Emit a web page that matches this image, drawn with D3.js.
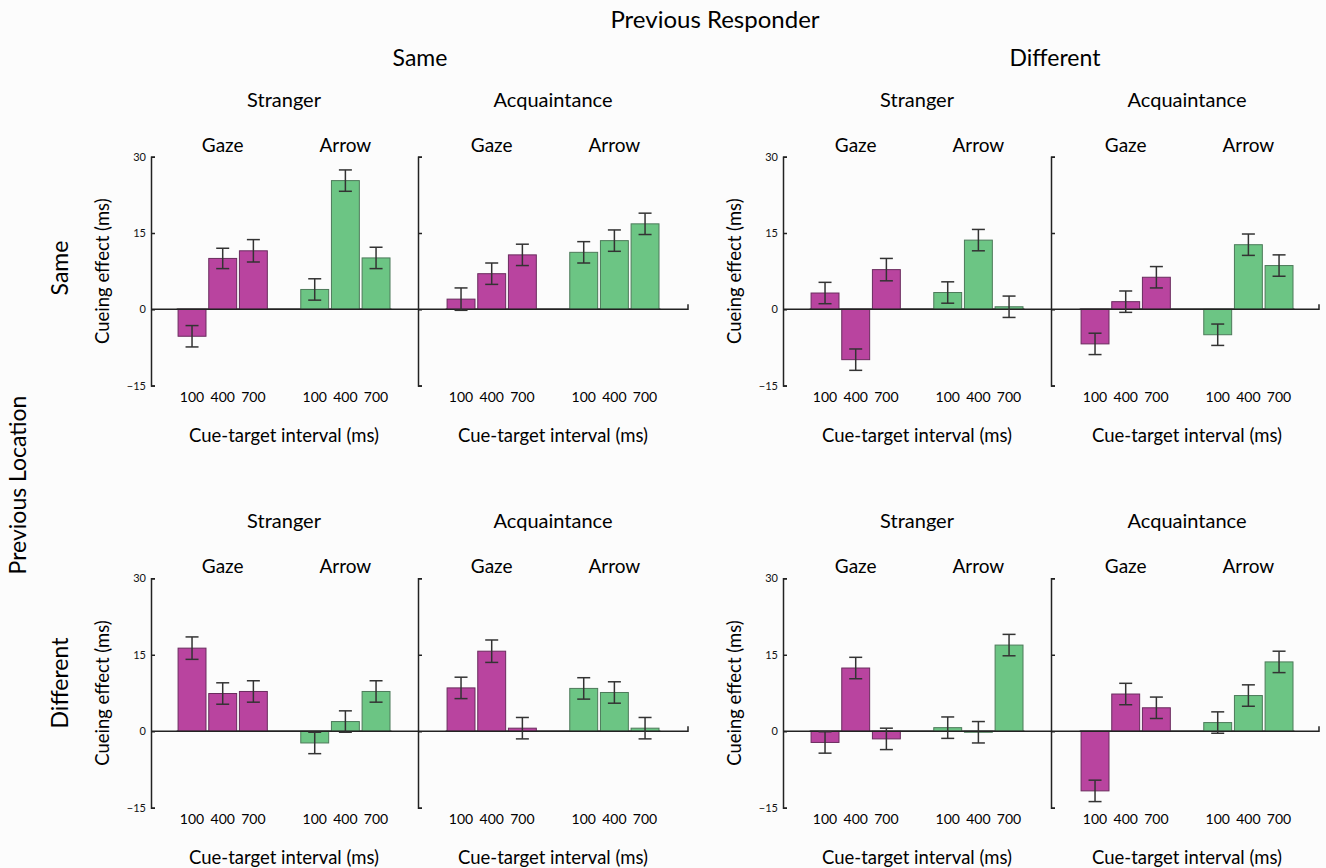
<!DOCTYPE html>
<html>
<head>
<meta charset="utf-8">
<script src="https://cdn.jsdelivr.net/npm/d3@7"></script>
<style>
  html, body { margin: 0; padding: 0; background: #fcfcfc; }
  svg { display: block; font-family: Lato, "Noto Sans", sans-serif; }
</style>
</head>
<body>
<svg id="chart" width="1326" height="868"></svg>
<script>
// ---------- data ----------
const intervals = ["100", "400", "700"];
const cueTypes = ["Gaze", "Arrow"];
const familiarity = ["Stranger", "Acquaintance"];
const responderLevels = ["Same", "Different"];
const locationLevels = ["Same", "Different"];
const yTicks = [-15, 0, 15, 30];

// values per panel: [Gaze100, Gaze400, Gaze700, Arrow100, Arrow400, Arrow700]
const sameLocSameRespStranger = [-5.3, 10.0, 11.5, 3.9, 25.3, 10.1];
const sameLocSameRespAcq      = [2.0, 7.0, 10.7, 11.2, 13.5, 16.8];
const sameLocDiffRespStranger = [3.2, -9.9, 7.8, 3.3, 13.6, 0.5];
const sameLocDiffRespAcq      = [-6.8, 1.5, 6.3, -5.0, 12.7, 8.6];
const diffLocSameRespStranger = [16.3, 7.4, 7.8, -2.3, 1.9, 7.8];
const diffLocSameRespAcq      = [8.5, 15.7, 0.6, 8.4, 7.6, 0.6];
const diffLocDiffRespStranger = [-2.2, 12.4, -1.5, 0.7, -0.2, 16.9];
const diffLocDiffRespAcq      = [-11.7, 7.3, 4.6, 1.7, 7.0, 13.6];

// error bar half-widths
const sameLocSameRespStrangerErr = [2.1, 2.0, 2.2, 2.1, 2.1, 2.1];
const sameLocSameRespAcqErr      = [2.2, 2.1, 2.1, 2.1, 2.1, 2.1];
const sameLocDiffRespStrangerErr = [2.1, 2.1, 2.2, 2.1, 2.1, 2.1];
const sameLocDiffRespAcqErr      = [2.1, 2.1, 2.1, 2.1, 2.1, 2.1];
const diffLocSameRespStrangerErr = [2.2, 2.1, 2.1, 2.1, 2.1, 2.1];
const diffLocSameRespAcqErr      = [2.1, 2.2, 2.1, 2.1, 2.1, 2.1];
const diffLocDiffRespStrangerErr = [2.1, 2.1, 2.1, 2.1, 2.1, 2.1];
const diffLocDiffRespAcqErr      = [2.1, 2.1, 2.1, 2.1, 2.1, 2.1];

const panelValues = [
  [[sameLocSameRespStranger, sameLocSameRespAcq], [sameLocDiffRespStranger, sameLocDiffRespAcq]],
  [[diffLocSameRespStranger, diffLocSameRespAcq], [diffLocDiffRespStranger, diffLocDiffRespAcq]]
];
const panelErrors = [
  [[sameLocSameRespStrangerErr, sameLocSameRespAcqErr], [sameLocDiffRespStrangerErr, sameLocDiffRespAcqErr]],
  [[diffLocSameRespStrangerErr, diffLocSameRespAcqErr], [diffLocDiffRespStrangerErr, diffLocDiffRespAcqErr]]
];

// ---------- layout ----------
const svg = d3.select("#chart");
const colors = { Gaze: "#b9449f", Arrow: "#6cc584" };
const strokes = { Gaze: "#6a2c5e", Arrow: "#4d7a5a" };
const rowY = [[385.6, 156.7], [807.7, 578.3]];            // y range per row
const halfAxes = [[151, 418], [783, 1051]];               // y-axis x per half/panel
const halfSlotStart = [[176.7, 445.7], [809.7, 1079.7]];
const halfZeroEnd = [688, 1319];
const slotStep = 30.67;
const slots = ["G100", "G400", "G700", "gap", "A100", "A400", "A700"];
const barKeys = ["G100", "G400", "G700", "A100", "A400", "A700"];
const rowTop = [0, 421];

svg.append("rect").attr("width", 1326).attr("height", 868).attr("fill", "#fcfcfc");

// global titles
svg.append("text").attr("x", 715).attr("y", 28).attr("text-anchor", "middle")
  .attr("font-size", 24).text("Previous Responder");
[420, 1055].forEach((x, i) => {
  svg.append("text").attr("x", x).attr("y", 66).attr("text-anchor", "middle")
    .attr("font-size", 23).text(responderLevels[i]);
});
svg.append("text").attr("transform", "translate(26,485) rotate(-90)").attr("text-anchor", "middle")
  .attr("font-size", 23).text("Previous Location");
[268, 683].forEach((y, i) => {
  svg.append("text").attr("transform", `translate(68,${y}) rotate(-90)`).attr("text-anchor", "middle")
    .attr("font-size", 23).text(locationLevels[i]);
});

for (let r = 0; r < 2; r++) {
  const y = d3.scaleLinear().domain([-15, 30]).range(rowY[r]);
  for (let h = 0; h < 2; h++) {
    const g = svg.append("g");
    // zero line
    g.append("path")
      .attr("d", `M${halfAxes[h][0]},${y(0)}H${halfZeroEnd[h]}V${y(0) - 5}`)
      .attr("fill", "none").attr("stroke", "#222").attr("stroke-width", 1.5);

    // y-axis label
    g.append("text")
      .attr("transform", `translate(${halfAxes[h][0] - 42},${(rowY[r][0] + rowY[r][1]) / 2}) rotate(-90)`)
      .attr("text-anchor", "middle").attr("font-size", 18.5).text("Cueing effect (ms)");

    for (let p = 0; p < 2; p++) {
      const x0 = halfSlotStart[h][p];
      const x = d3.scaleBand().domain(slots).range([x0, x0 + slotStep * 7]).paddingInner(0.09).paddingOuter(0.045);
      const vals = panelValues[r][h][p];
      const errs = panelErrors[r][h][p];
      const data = barKeys.map((k, i) => ({ key: k, cue: i < 3 ? "Gaze" : "Arrow", interval: intervals[i % 3], v: vals[i], e: errs[i] }));

      // axis
      const axis = d3.axisLeft(y).tickValues(yTicks).tickSizeInner(-4).tickSizeOuter(-4).tickPadding(5)
        .tickFormat(p === 0 ? d3.format("d") : () => "");
      const ag = g.append("g").attr("transform", `translate(${halfAxes[h][p]},0)`).call(axis);
      ag.select(".domain").attr("stroke", "#222").attr("stroke-width", 1.5);
      ag.selectAll(".tick line").attr("stroke", "#222").attr("stroke-width", 1.5);
      ag.selectAll(".tick text").attr("font-size", 11).attr("font-family", "Lato, sans-serif").attr("fill", "#111");

      // bars
      g.selectAll(null).data(data).enter().append("rect")
        .attr("x", d => x(d.key))
        .attr("width", x.bandwidth())
        .attr("y", d => y(Math.max(0, d.v)))
        .attr("height", d => Math.abs(y(d.v) - y(0)))
        .attr("fill", d => colors[d.cue])
        .attr("stroke", d => strokes[d.cue]).attr("stroke-width", 1);

      // redraw zero segment over bars
      g.append("line").attr("x1", x0).attr("x2", x0 + slotStep * 7).attr("y1", y(0)).attr("y2", y(0))
        .attr("stroke", "#222").attr("stroke-width", 1.5);

      // error bars
      const eb = g.selectAll(null).data(data).enter().append("g").attr("stroke", "#333").attr("stroke-width", 1.5).attr("fill", "none");
      eb.append("line").attr("x1", d => x(d.key) + x.bandwidth() / 2).attr("x2", d => x(d.key) + x.bandwidth() / 2)
        .attr("y1", d => y(d.v + d.e)).attr("y2", d => y(d.v - d.e));
      eb.append("line").attr("x1", d => x(d.key) + x.bandwidth() / 2 - 6.5).attr("x2", d => x(d.key) + x.bandwidth() / 2 + 6.5)
        .attr("y1", d => y(d.v + d.e)).attr("y2", d => y(d.v + d.e));
      eb.append("line").attr("x1", d => x(d.key) + x.bandwidth() / 2 - 6.5).attr("x2", d => x(d.key) + x.bandwidth() / 2 + 6.5)
        .attr("y1", d => y(d.v - d.e)).attr("y2", d => y(d.v - d.e));

      // category labels
      g.selectAll(null).data(data).enter().append("text")
        .attr("x", d => x(d.key) + x.bandwidth() / 2)
        .attr("y", rowY[r][0] + 16.5)
        .attr("text-anchor", "middle").attr("font-size", 14).text(d => d.interval);

      // cue type labels
      cueTypes.forEach((c, i) => {
        const k = i === 0 ? "G400" : "A400";
        g.append("text").attr("x", x(k) + x.bandwidth() / 2).attr("y", rowTop[r] + 152)
          .attr("text-anchor", "middle").attr("font-size", 19).text(c);
      });
      // familiarity label
      const cx = x0 + slotStep * 3.5;
      g.append("text").attr("x", cx).attr("y", rowTop[r] + 107)
        .attr("text-anchor", "middle").attr("font-size", 20).text(familiarity[p]);
      // x-axis title
      g.append("text").attr("x", cx).attr("y", rowY[r][0] + 56)
        .attr("text-anchor", "middle").attr("font-size", 18.5).text("Cue-target interval (ms)");
    }
  }
}
</script>
</body>
</html>
